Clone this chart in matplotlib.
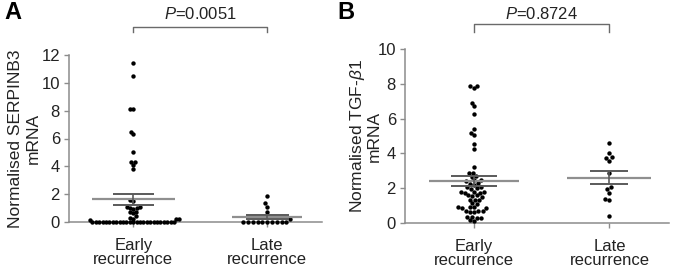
import numpy as np
import matplotlib
matplotlib.use("Agg")
import matplotlib.pyplot as plt
import matplotlib.transforms as mtransforms

plt.rcParams['font.family'] = ['Liberation Sans', 'DejaVu Sans']
plt.rcParams['mathtext.fontset'] = 'custom'
plt.rcParams['mathtext.it'] = 'Liberation Sans:italic'
plt.rcParams['mathtext.rm'] = 'Liberation Sans'

# ---------------- data ----------------
categories = ["Early\nrecurrence", "Late\nrecurrence"]

serpinb3_early = [11.4, 10.5, 8.1, 8.1, 6.5, 6.3, 5.0, 4.3, 4.3, 4.1, 3.8,
                  1.6, 1.5, 1.05, 1.0, 1.0, 0.95, 1.05, 0.75, 0.7, 0.65, 0.4,
                  0.3, 0.25, 0.2, 0.2, 0.15,
                  0.0, 0.0, 0.0, 0.0, 0.0, 0.0, 0.0, 0.0, 0.0, 0.0,
                  0.0, 0.0, 0.0, 0.0, 0.0, 0.0, 0.0, 0.0, 0.0, 0.0,
                  0.0, 0.0, 0.0, 0.0, 0.0]
serpinb3_late = [1.9, 1.4, 1.1, 0.7, 0.25,
                 0.0, 0.0, 0.0, 0.0, 0.0, 0.0, 0.0, 0.0, 0.0, 0.0]

tgfb1_early = [7.9, 7.75, 7.85, 6.9, 6.7, 6.25, 5.4, 5.2, 5.05, 4.55, 4.25, 3.2,
               2.9, 2.85, 2.7, 2.65, 2.5, 2.45, 2.4, 2.25, 2.2, 2.3,
               2.05, 2.0, 1.95, 2.05, 1.8, 1.75, 1.8, 1.75, 1.8,
               1.6, 1.55, 1.6, 1.5, 1.35, 1.3, 1.35, 1.1, 1.15,
               0.9, 0.9, 0.85, 0.9, 0.85, 0.7, 0.65, 0.7, 0.65, 0.7,
               0.35, 0.3, 0.3, 0.35, 0.15, 0.1]
tgfb1_late = [4.62, 4.02, 3.78, 3.75, 3.55, 2.85, 2.05, 1.95, 1.72, 1.4, 1.3, 0.38]

p_values = ["0.0051", "0.8724"]
y_labels = ["Normalised SERPINB3\nmRNA", "Normalised TGF-$\\beta$1\nmRNA"]
y_ticks = [[0, 2, 4, 6, 8, 10, 12], [0, 2, 4, 6, 8, 10]]
panel_letters = ["A", "B"]

# ---------------- helpers ----------------
def swarm(vals, pxx, pxy, d):
    """Beeswarm offsets (data x units) computed in pixel space."""
    vals = np.asarray(vals, float)
    order = np.argsort(vals, kind="stable")
    placed = []
    offs = np.zeros(len(vals))
    for idx in order:
        y = vals[idx] * pxy
        forb = []
        for (px, py) in placed:
            dy = abs(py - y)
            if dy < d:
                w = np.sqrt(d * d - dy * dy)
                forb.append((px - w, px + w))
        cands = [0.0]
        for a, b in forb:
            cands += [a, b]
        cands = sorted(cands, key=lambda c: (abs(c), c))
        chosen = 0.0
        for c in cands:
            if all(not (a + 1e-9 < c < b - 1e-9) for a, b in forb):
                chosen = c
                break
        placed.append((chosen, y))
        offs[idx] = chosen / pxx
    return offs


W, H, DPI = 676, 270, 100
fig = plt.figure(figsize=(W / DPI, H / DPI), dpi=DPI)

panels = [
    dict(rect=[69 / W, 1 - 222 / H, 253 / W, 167 / H], xlim=(-0.48, 1.41), ylim=(0, 12),
         groups=[serpinb3_early, serpinb3_late], d=[3.4, 4.8],
         meanw=[0.31, 0.26], semw=[0.155, 0.16],
         br_y=1.168, br_tick=1.138, txt_y=1.245, labx=-0.112, lsp=1.2, letter_x=4 / W),
    dict(rect=[405 / W, 1 - 223 / H, 264 / W, 174 / H], xlim=(-0.51, 1.44), ylim=(0, 10),
         groups=[tgfb1_early, tgfb1_late], d=[4.3, 4.8],
         meanw=[0.33, 0.31], semw=[0.17, 0.14],
         br_y=1.144, br_tick=1.098, txt_y=1.2, labx=-0.088, lsp=1.0, letter_x=337 / W),
]

spine_c = "#8c8c8c"
for i, p in enumerate(panels):
    ax = fig.add_axes(p["rect"])
    ax.set_xlim(*p["xlim"])
    ax.set_ylim(*p["ylim"])
    pxx = p["rect"][2] * W / (p["xlim"][1] - p["xlim"][0])
    pxy = p["rect"][3] * H / (p["ylim"][1] - p["ylim"][0])
    for j, vals in enumerate(p["groups"]):
        v = np.asarray(vals, float)
        offs = swarm(v, pxx, pxy, p["d"][j])
        m = v.mean()
        sem = v.std(ddof=1) / np.sqrt(len(v))
        ax.scatter(j + offs, v, s=10, color="black", zorder=3, clip_on=False, linewidths=0)
        ax.hlines(m, j - p["meanw"][j], j + p["meanw"][j], color="#8f8f8f", lw=1.6, zorder=4)
        ax.hlines([m - sem, m + sem], j - p["semw"][j], j + p["semw"][j], color="#5a5a5a", lw=1.4, zorder=4)
        ax.vlines(j, m - sem, m + sem, color="#5a5a5a", lw=1.2, zorder=4)

    for s in ["top", "right"]:
        ax.spines[s].set_visible(False)
    for s in ["left", "bottom"]:
        ax.spines[s].set_color(spine_c)
        ax.spines[s].set_linewidth(1.1)
    ax.set_yticks(y_ticks[i])
    ax.set_xticks([0, 1])
    ax.set_xticklabels(categories, fontsize=12, color="#222222", linespacing=0.95)
    ax.tick_params(axis="y", labelsize=12, colors=spine_c, labelcolor="#222222", length=3.5, width=1, pad=3)
    ax.tick_params(axis="x", colors=spine_c, labelcolor="#222222", length=3.5, width=1, pad=8)
    ax.set_ylabel(y_labels[i], fontsize=12.5, color="#222222", linespacing=p["lsp"])
    ax.yaxis.set_label_coords(p["labx"], 0.5)

    tr = mtransforms.blended_transform_factory(ax.transData, ax.transAxes)
    ax.plot([0, 0, 1, 1], [p["br_tick"], p["br_y"], p["br_y"], p["br_tick"]],
            color="#6a6a6a", lw=1.0, transform=tr, clip_on=False)
    ax.text(0.5, p["txt_y"], "$P$=" + p_values[i], transform=tr, ha="center", va="center",
            fontsize=12, color="#222222")

    fig.text(p["letter_x"], 0.995, panel_letters[i], fontsize=17, fontweight="bold",
             va="top", ha="left", color="black")

fig.savefig("out.png", dpi=DPI)
